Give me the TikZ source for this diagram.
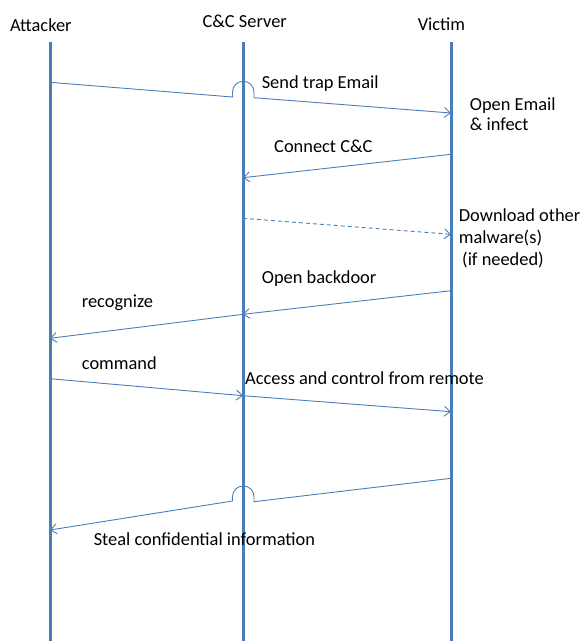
\documentclass[tikz,border=0pt]{standalone}
\usepackage{fontspec}
\setmainfont{Carlito}
\usepackage{xcolor}
\usepackage{tikz}
\usetikzlibrary{arrows.meta}
\definecolor{lane}{RGB}{74,126,187}

\begin{document}
\begin{tikzpicture}
        [x=1pt,y=-1pt,
         life/.style={draw=lane,line width=3pt},
         msg/.style={draw=lane,line width=0.9pt,-{Straight Barb[length=6pt,width=10pt]}},
         lbl/.style={anchor=base west,inner sep=0pt,font=\fontsize{18.4}{21}\selectfont}]
        \useasboundingbox (0,0) rectangle (582,641);

        \foreach \n/\x in {att/50,cc/243,vic/451} {
          \coordinate (\n top) at (\x,41.7); \coordinate (\n bot) at (\x,641);
          \draw[life] (\n top) -- (\n bot);
        }

        \node[lbl,anchor=base] (att) at (40.8,31.7) {Attacker};
        \node[lbl,anchor=base] (cc) at (244.7,27.7) {C\&C Server};
        \node[lbl,anchor=base] (vic) at (441.5,30) {Victim};

        \coordinate (m1a) at (50,82.3); \coordinate (m1b) at (451,113);
        \coordinate (j1l) at (232.5,97); \coordinate (j1r) at (254,97.7);
        \coordinate (m2a) at (451,154.3); \coordinate (m2b) at (243,177.7);
        \coordinate (m3a) at (243,218.3); \coordinate (m3b) at (451,234.3);
        \coordinate (m4a) at (451,290.7); \coordinate (m4b) at (243,314.3);
        \coordinate (m5b) at (50,338.3);
        \coordinate (m6a) at (50,378.7); \coordinate (m6b) at (243,395.7);
        \coordinate (m7b) at (451,411.7);
        \coordinate (m8a) at (451,478.3); \coordinate (m8b) at (50,530);
        \coordinate (j2l) at (232.5,501); \coordinate (j2r) at (254,501.7);

        \draw[msg] (m1a) -- (j1l) -- ++(0,-5) arc[start angle=180,end angle=360,radius=10.75] -- (j1r) -- (m1b);
        \draw[msg] (m2a) -- (m2b);
        \draw[msg,dash pattern=on 4pt off 3pt] (m3a) -- (m3b);
        \draw[msg] (m4a) -- (m4b);
        \draw[msg] (m4b) -- (m5b);
        \draw[msg] (m6a) -- (m6b);
        \draw[msg] (m6b) -- (m7b);
        \draw[msg] (m8a) -- (j2r) -- ++(0,-5) arc[start angle=360,end angle=180,radius=10.75] -- (j2l) -- (m8b);

        \node[lbl] (send) at (261.6,88.3) {Send trap Email};
        \node[lbl] (open1) at (469.7,110) {Open Email};
        \node[lbl] (open2) at (469.7,130) {\& infect};
        \node[lbl] (conn) at (274,152.7) {Connect C\&C};
        \node[lbl] (down1) at (458.7,221.7) {Download other};
        \node[lbl] (down2) at (458.7,243.3) {malware(s)};
        \node[lbl] (down3) at (462,265) {(if needed)};
        \node[lbl] (back) at (261.7,283.3) {Open backdoor};
        \node[lbl] (recog) at (81.7,307.3) {recognize};
        \node[lbl] (cmd) at (81.7,369) {command};
        \node[lbl] (acc) at (245,384.3) {Access and control from remote};
        \node[lbl] (steal) at (93.6,545) {Steal confidential information};
\end{tikzpicture}
\end{document}
